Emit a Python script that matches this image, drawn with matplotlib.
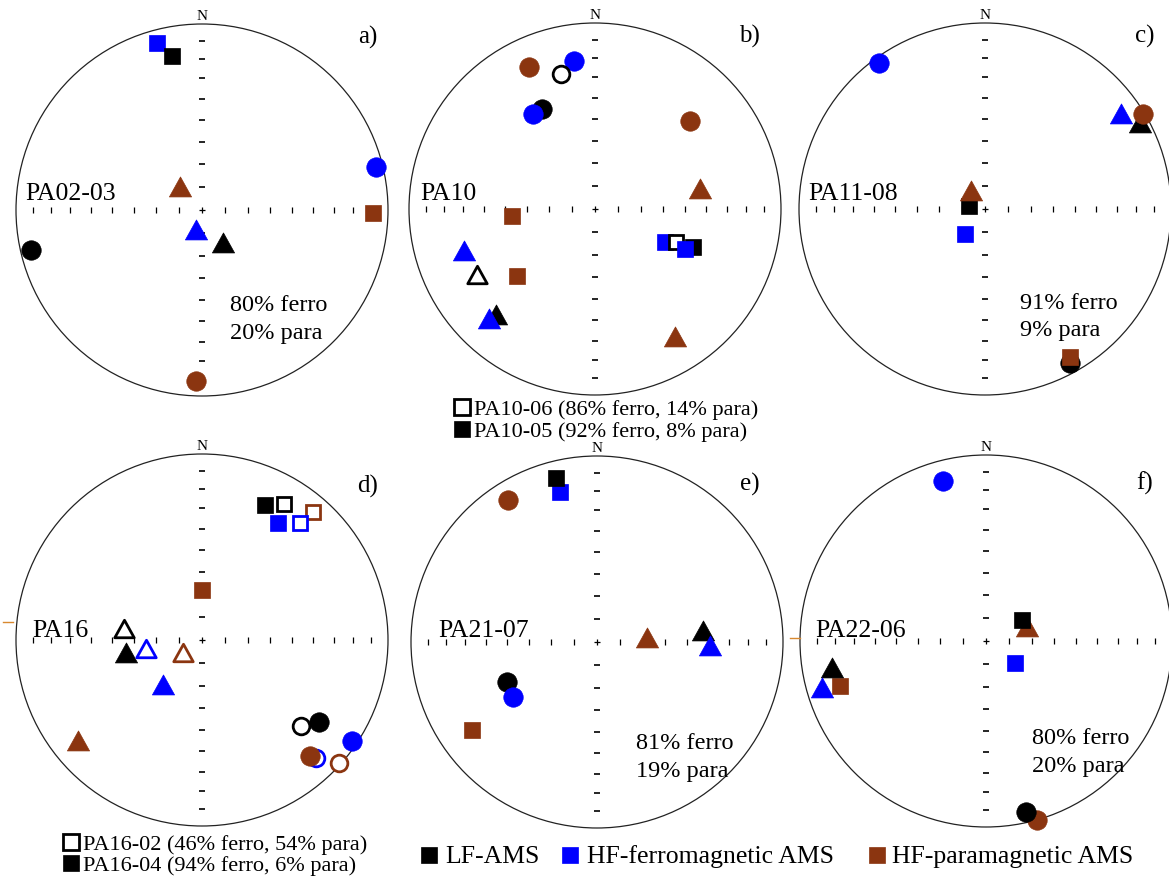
import numpy as np
import matplotlib.pyplot as plt
from matplotlib.lines import Line2D
from matplotlib.patches import Circle
from matplotlib.path import Path

plt.rcParams['font.family'] = ['Liberation Serif', 'DejaVu Serif']

# cores das componentes e marcadores dos eixos (K1 quadrado, K2 triangulo, K3 circulo)
cores = {"LF": "black", "ferro": "#0000ff", "para": "#8b3510"}
tri = Path([(-1, -0.85), (1, -0.85), (0, 0.95), (-1, -0.85)], closed=True)
marcadores = {"K1": "s", "K2": tri, "K3": "o"}
tamanhos = {"K1": 12, "K2": 16, "K3": 14}

# (componente, eixo, cheio, declinacao, inclinacao) na ordem de desenho
pa02_03 = [
    ("ferro", "K1", True, 345, 8),
    ("LF", "K1", True, 349, 17),
    ("ferro", "K3", True, 76, 4),
    ("para", "K2", True, 316, 76),
    ("para", "K1", True, 91, 9),
    ("ferro", "K2", True, 197, 81),
    ("LF", "K2", True, 147, 73),
    ("LF", "K3", True, 257, 6),
    ("para", "K3", True, 182, 9),
]

pa10 = [
    ("para", "K3", True, 335, 17),
    ("ferro", "K3", True, 352, 21),
    ("LF", "K3", False, 346, 26),
    ("LF", "K3", True, 332, 39),
    ("ferro", "K3", True, 327, 39),
    ("para", "K3", True, 47, 31),
    ("para", "K2", True, 79, 42),
    ("para", "K1", True, 265, 53),
    ("ferro", "K1", True, 115, 56),
    ("LF", "K1", True, 111, 43),
    ("LF", "K1", False, 112, 51),
    ("ferro", "K1", True, 114, 46),
    ("ferro", "K2", True, 252, 27),
    ("LF", "K2", False, 241, 28),
    ("para", "K1", True, 229, 44),
    ("LF", "K2", True, 223, 23),
    ("ferro", "K2", True, 224, 19),
    ("para", "K2", True, 148, 20),
]

pa11_08 = [
    ("ferro", "K3", True, 324, 3),
    ("ferro", "K2", True, 55, 12),
    ("LF", "K2", True, 61, 5),
    ("para", "K3", True, 59, 1),
    ("LF", "K1", True, 282, 83),
    ("para", "K2", True, 322, 80),
    ("ferro", "K1", True, 219, 76),
    ("LF", "K3", True, 151, 6),
    ("para", "K1", True, 150, 9),
]

pa16 = [
    ("LF", "K1", True, 25, 21),
    ("LF", "K1", False, 31, 16),
    ("para", "K1", False, 41, 10),
    ("ferro", "K1", True, 33, 26),
    ("ferro", "K1", False, 40, 19),
    ("para", "K1", True, 0, 68),
    ("LF", "K2", False, 278, 55),
    ("LF", "K2", True, 260, 56),
    ("ferro", "K2", False, 261, 65),
    ("para", "K2", False, 235, 80),
    ("ferro", "K2", True, 221, 64),
    ("para", "K2", True, 231, 15),
    ("LF", "K3", False, 131, 30),
    ("LF", "K3", True, 125, 24),
    ("ferro", "K3", True, 124, 3),
    ("ferro", "K3", False, 136, 13),
    ("para", "K3", True, 137, 16),
    ("para", "K3", False, 132, 1),
]

pa21_07 = [
    ("ferro", "K1", True, 346, 18),
    ("LF", "K1", True, 346, 10),
    ("para", "K3", True, 328, 11),
    ("para", "K2", True, 85, 68),
    ("LF", "K2", True, 84, 42),
    ("ferro", "K2", True, 92, 39),
    ("LF", "K3", True, 246, 46),
    ("ferro", "K3", True, 237, 45),
    ("para", "K1", True, 235, 19),
]

pa22_06 = [
    ("ferro", "K3", True, 345, 12),
    ("para", "K2", True, 71, 71),
    ("LF", "K1", True, 60, 72),
    ("ferro", "K1", True, 127, 74),
    ("para", "K1", True, 253, 19),
    ("LF", "K2", True, 260, 17),
    ("ferro", "K2", True, 254, 9),
    ("para", "K3", True, 164, 0),
    ("LF", "K3", True, 167, 6),
]

nomes = ["PA02-03", "PA10", "PA11-08", "PA16", "PA21-07", "PA22-06"]
letras = ["a)", "b)", "c)", "d)", "e)", "f)"]
porcentagens = [["80% ferro", "20% para"], None, ["91% ferro", "9% para"],
                None, ["81% ferro", "19% para"], ["80% ferro", "20% para"]]
dados = [pa02_03, pa10, pa11_08, pa16, pa21_07, pa22_06]

amostras_b = ["PA10-06 (86% ferro, 14% para)", "PA10-05 (92% ferro, 8% para)"]
amostras_d = ["PA16-02 (46% ferro, 54% para)", "PA16-04 (94% ferro, 6% para)"]
legenda = ["LF-AMS", "HF-ferromagnetic AMS", "HF-paramagnetic AMS"]


def projecao(dec, inc):
    # Schmidt (igual area), hemisferio inferior
    r = np.sqrt(2) * np.sin(np.radians(90 - inc) / 2)
    return r * np.sin(np.radians(dec)), r * np.cos(np.radians(dec))


W, H = 1169, 879
R = 186
centros = [(202, 211), (595, 210), (985, 210), (202, 641), (597, 643), (986, 642)]
pos_nome = [(-0.95, 0.06), (-0.94, 0.055), (-0.95, 0.055), (-0.91, 0.02), (-0.855, 0.03), (-0.92, 0.027)]
pos_letra = [(0.89, 0.9), (0.83, 0.9), (0.86, 0.9), (0.89, 0.8), (0.82, 0.82), (0.85, 0.82)]
pos_pct = [(0.15, -0.54), None, (0.19, -0.53), None, (0.21, -0.57), (0.25, -0.55)]

fig = plt.figure(figsize=(W / 100, H / 100), dpi=100)

# marcas da rede (inclinacoes de 10 em 10 graus)
r_ticks = np.sqrt(2) * np.sin(np.radians(90 - np.arange(10, 90, 10)) / 2)
r_ticks = np.concatenate([-r_ticks, r_ticks])

for i in range(6):
    cx, cy = centros[i]
    ax = fig.add_axes([(cx - R) / W, (H - cy - R) / H, 2 * R / W, 2 * R / H])
    ax.set_xlim(-1, 1)
    ax.set_ylim(-1, 1)
    ax.axis("off")

    ax.add_patch(Circle((0, 0), 1, fill=False, lw=0.9, color="#222222", clip_on=False))
    ax.plot(r_ticks, np.zeros(len(r_ticks)), "|", color="black", ms=4, mew=0.9, ls="none")
    ax.plot(np.zeros(len(r_ticks)), r_ticks, "_", color="black", ms=4, mew=1.2, ls="none")
    ax.plot(0, 0, "+", color="black", ms=5, mew=0.9)
    ax.text(0, 1.01, "N", ha="center", va="bottom", fontsize=11)

    for comp, eixo, cheio, dec, inc in dados[i]:
        x, y = projecao(dec, inc)
        c = cores[comp]
        if cheio:
            ax.plot(x, y, marker=marcadores[eixo], ms=tamanhos[eixo], color=c,
                    mec=c, mew=0.5, ls="none", clip_on=False)
        else:
            ax.plot(x, y, marker=marcadores[eixo], ms=tamanhos[eixo] - 2, mfc="white",
                    mec=c, mew=2, ls="none", clip_on=False)

    ax.text(pos_nome[i][0], pos_nome[i][1], nomes[i], fontsize=18.5, va="baseline")
    ax.text(pos_letra[i][0], pos_letra[i][1], letras[i], fontsize=18, ha="center", va="baseline")
    if porcentagens[i]:
        px, py = pos_pct[i]
        ax.text(px, py, porcentagens[i][0], fontsize=17.5, va="baseline")
        ax.text(px, py - 0.15, porcentagens[i][1], fontsize=17.5, va="baseline")

# pequenos tracos laranja a esquerda (d e f)
fig.add_artist(Line2D([3 / W, 13 / W], [1 - 623 / H, 1 - 623 / H], color="#d8892f", lw=1))
fig.add_artist(Line2D([790 / W, 800 / W], [1 - 639 / H, 1 - 639 / H], color="#d8892f", lw=1))

# legendas das amostras
def chave(x, y, cor, cheio, tam=12):
    fig.add_artist(Line2D([x / W], [1 - y / H], marker="s", ms=tam,
                          mfc=cor if cheio else "white", mec=cor, mew=2 if not cheio else 0.5,
                          ls="none"))

for j, (txt, y) in enumerate(zip(amostras_b, [415, 437])):
    chave(462, y - 7, "black", j == 1, 11)
    fig.text(474 / W, 1 - y / H, txt, fontsize=16, va="baseline")
for j, (txt, y) in enumerate(zip(amostras_d, [850, 871])):
    chave(71, y - 7, "black", j == 1, 11)
    fig.text(83 / W, 1 - y / H, txt, fontsize=16, va="baseline")

# legenda das componentes
for txt, cor, xq, xt in zip(legenda, ["black", "#0000ff", "#8b3510"], [429, 570, 877], [445, 587, 892]):
    chave(xq, 856, cor, True, 11)
    fig.text(xt / W, 1 - 863 / H, txt, fontsize=18.5, va="baseline")

fig.savefig("out.png", dpi=100)
